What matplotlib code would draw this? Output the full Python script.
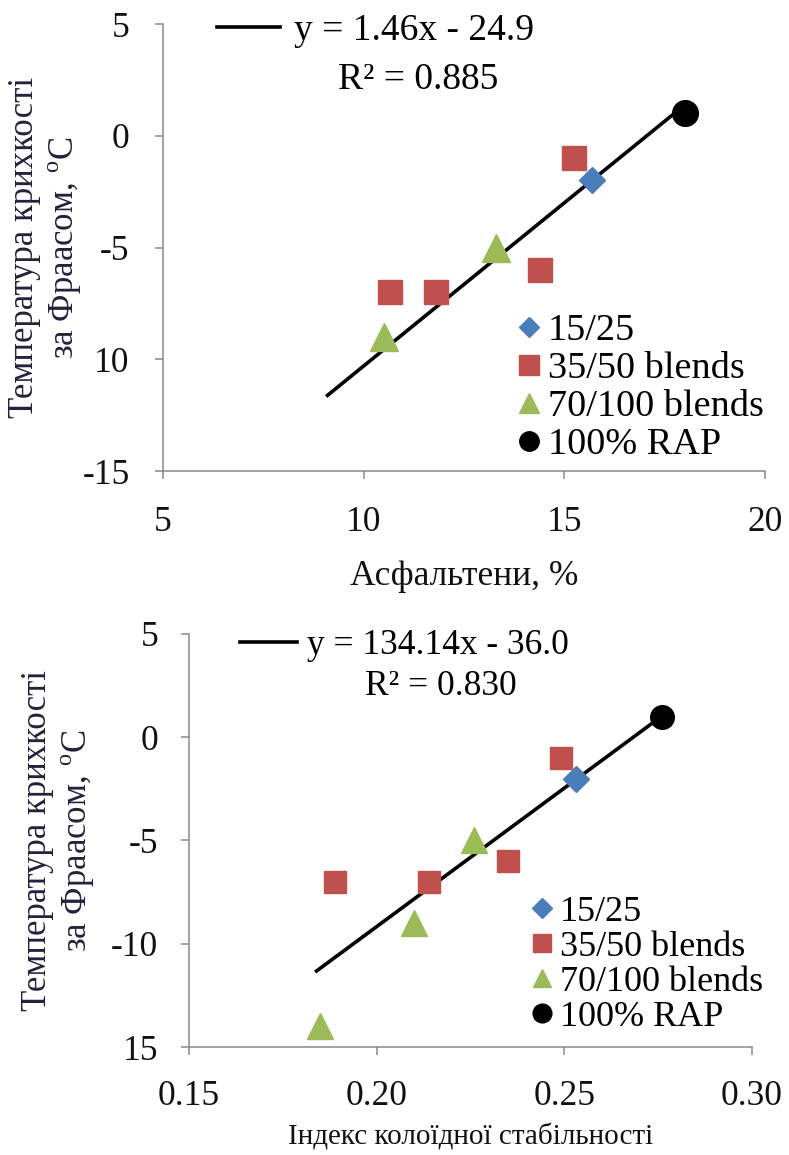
import numpy as np
import matplotlib
matplotlib.use('Agg')
from matplotlib import pyplot as plt
from matplotlib.lines import Line2D

plt.rcParams['font.family'] = ['Liberation Serif', 'DejaVu Serif']
plt.rcParams['mathtext.fontset'] = 'custom'
plt.rcParams['mathtext.rm'] = 'Liberation Serif'

# --- top chart: asphaltenes vs Fraass temperature
asph_1525 = [15.7]
temp_1525 = [-2]
asph_3550 = [15.25, 10.65, 11.8, 14.4]
temp_3550 = [-1, -7, -7, -6]
asph_70100 = [13.3, 10.5]
temp_70100 = [-5, -9]
asph_rap = [18.0]
temp_rap = [1]
fit_top = [1.46, -24.9]
fit_top_x = [9.1, 18.0]
r2_top = 0.885

# --- bottom chart: colloidal instability index vs Fraass temperature
cii_1525 = [0.253]
temp_1525_b = [-2]
cii_3550 = [0.249, 0.235, 0.214, 0.189]
temp_3550_b = [-1, -6, -7, -7]
cii_70100 = [0.226, 0.210, 0.185]
temp_70100_b = [-5, -9, -14]
cii_rap = [0.276]
temp_rap_b = [1]
fit_bot = [134.14, -36.0]
fit_bot_x = [0.184, 0.276]
r2_bot = 0.830

yticks = [5, 0, -5, -10, -15]
ytick_labels_top = ['5', '0', '-5', '10', '-15']
ytick_labels_bot = ['5', '0', '-5', '-10', '15']
xticks_top = [5, 10, 15, 20]
xtick_labels_top = ['5', '10', '15', '20']
xticks_bot = [0.15, 0.20, 0.25, 0.30]
xtick_labels_bot = ['0.15', '0.20', '0.25', '0.30']

names = ['15/25', '35/50 blends', '70/100 blends', '100% RAP']
colors = ['#4a7ebb', '#c0504d', '#9bbb59', '#000000']
ylabel = 'Температура крихкості\nза Фраасом, $^{\\mathrm{o}}$C'
label_color = '#22223a'
axis_grey = '#8a8a8a'

fig = plt.figure(figsize=(7.89, 11.55), dpi=100)
ax1 = fig.add_axes([0.2066, 0.5922, 0.763, 0.387])
ax2 = fig.add_axes([0.2395, 0.0935, 0.7135, 0.3576])


def style_axes(ax, ypad, xpad):
    for s in ['top', 'right']:
        ax.spines[s].set_visible(False)
    for s in ['left', 'bottom']:
        ax.spines[s].set_color(axis_grey)
        ax.spines[s].set_linewidth(1.1)
    ax.tick_params(axis='both', direction='out', length=6, width=1.1,
                   color=axis_grey, labelsize=25.5, labelcolor='#111111')
    ax.tick_params(axis='y', pad=ypad)
    ax.tick_params(axis='x', pad=xpad)


def draw(ax, xs, ys, sizes, fit, fit_x):
    fx = np.array(fit_x)
    ax.plot(fx, fit[0] * fx + fit[1], color='black', lw=2.6, zorder=2)
    markers = ['D', 's', '^', 'o']
    for (x, y), m, c, ms in zip(zip(xs, ys), markers, colors, sizes):
        ax.plot(x, y, ls='none', marker=m, color=c, ms=ms, mec=c, zorder=3)


# top chart
draw(ax1, [asph_1525, asph_3550, asph_70100, asph_rap],
     [temp_1525, temp_3550, temp_70100, temp_rap],
     [13.5, 17, 20, 18.5], fit_top, fit_top_x)
ax1.set_xlim(5, 20)
ax1.set_ylim(-15, 5)
ax1.set_xticks(xticks_top)
ax1.set_xticklabels(xtick_labels_top)
ax1.set_yticks(yticks)
ax1.set_yticklabels(ytick_labels_top)
style_axes(ax1, 18, 19)
ax1.set_xlabel('Асфальтени, %', fontsize=25.5, color='#111111')
ax1.xaxis.set_label_coords(0.5, -0.198)
ax1.set_ylabel(ylabel, fontsize=25, color=label_color)
ax1.yaxis.set_label_coords(-0.131, 0.5)

# bottom chart
draw(ax2, [cii_1525, cii_3550, cii_70100, cii_rap],
     [temp_1525_b, temp_3550_b, temp_70100_b, temp_rap_b],
     [13, 16, 18.5, 17], fit_bot, fit_bot_x)
ax2.set_xlim(0.15, 0.30)
ax2.set_ylim(-15, 5)
ax2.set_xticks(xticks_bot)
ax2.set_xticklabels(xtick_labels_bot)
ax2.set_yticks(yticks)
ax2.set_yticklabels(ytick_labels_bot)
style_axes(ax2, 16, 18)
ax2.set_xlabel('Індекс колоїдної стабільності', fontsize=21, color='#111111')
ax2.xaxis.set_label_coords(0.5, -0.184)
ax2.set_ylabel(ylabel, fontsize=25, color=label_color)
ax2.yaxis.set_label_coords(-0.163, 0.5)


def add_legends(ax, fit, r2, eq_anchor, r2_pos, eq_hl, eq_pad, mk_anchor,
                fs, fs_mk, leg_ms, spacing):
    sign = '-' if fit[1] < 0 else '+'
    eq = 'y = {:.2f}x {} {:.1f}'.format(fit[0], sign, abs(fit[1]))
    line_h = [Line2D([], [], color='black', lw=2.6)]
    leg1 = ax.legend(line_h, [eq], loc='upper left', bbox_to_anchor=eq_anchor,
                     frameon=False, fontsize=fs, handlelength=eq_hl,
                     handletextpad=eq_pad, borderpad=0, borderaxespad=0)
    ax.add_artist(leg1)
    ax.text(r2_pos[0], r2_pos[1], 'R² = {:.3f}'.format(r2), transform=ax.transAxes,
            ha='center', va='center', fontsize=fs)
    markers = ['D', 's', '^', 'o']
    handles = [Line2D([], [], ls='none', marker=m, color=c, mec=c, ms=s)
               for m, c, s in zip(markers, colors, leg_ms)]
    ax.legend(handles, names, loc='upper left', bbox_to_anchor=mk_anchor,
              frameon=False, fontsize=fs_mk, handlelength=0.7, handletextpad=0.15,
              labelspacing=spacing, borderpad=0, borderaxespad=0)


add_legends(ax1, fit_top, r2_top, (0.0897, 1.024), (0.424, 0.875), 1.68, 0.36,
            (0.585, 0.353), 27, 27.5, [10, 14, 14, 14], 0.09)
add_legends(ax2, fit_bot, r2_bot, (0.0906, 1.012), (0.448, 0.872), 1.62, 0.28,
            (0.604, 0.367), 25.5, 26, [10, 13.5, 13.5, 13.5], 0.05)

fig.savefig('out.png', dpi=100)
